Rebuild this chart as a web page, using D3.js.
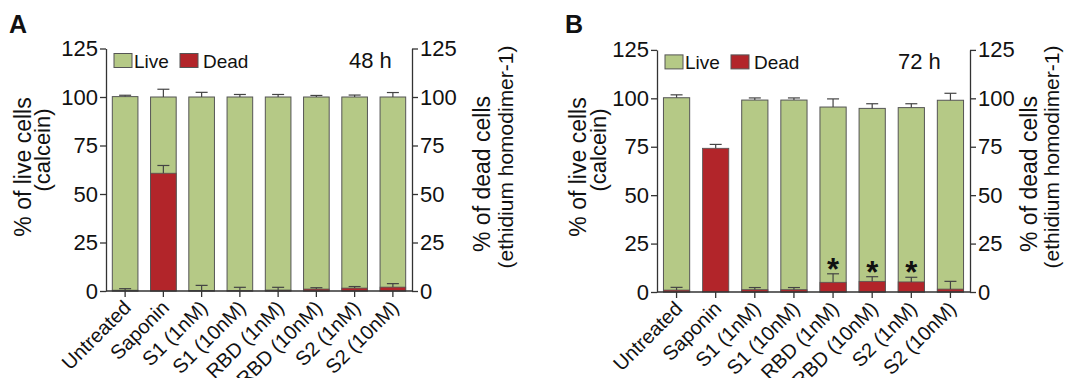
<!DOCTYPE html>
<html>
<head>
<meta charset="utf-8">
<script src="https://cdn.jsdelivr.net/npm/d3@7"></script>
<style>
  body { margin: 0; background: #fff; }
  text { font-family: "Liberation Sans", Arial, sans-serif; fill: #111; }
</style>
</head>
<body>
<svg id="chart" width="1070" height="378"></svg>
<script>
// categories + tick values
const categories = ["Untreated", "Saponin", "S1 (1nM)", "S1 (10nM)", "RBD (1nM)", "RBD (10nM)", "S2 (1nM)", "S2 (10nM)"];
const yTicks = [0, 25, 50, 75, 100, 125];

// 48 h
const liveA = [100.2, 100, 100, 100, 100, 100, 100, 100];
const liveErrA = [0.7, 4.0, 2.4, 1.3, 1.3, 0.8, 1.0, 2.3];
const deadA = [0.4, 60.7, 0.3, 0.2, 0.5, 1.0, 1.5, 2.0];
const deadErrA = [0.8, 4.0, 2.6, 1.7, 1.4, 0.7, 0.8, 1.8];

// 72 h
const liveB = [100.3, 0, 99.1, 99.1, 95.5, 94.8, 95.2, 99.0];
const liveErrB = [1.5, 0, 1.1, 1.1, 4.2, 2.4, 2.0, 3.6];
const deadB = [1.0, 74.2, 1.2, 1.2, 5.0, 5.5, 5.2, 1.5];
const deadErrB = [1.4, 2.0, 1.1, 1.1, 4.4, 2.4, 2.4, 4.0];
const signifB = [false, false, false, false, true, true, true, false];

const GREEN = "#b5c986";
const RED = "#b2252a";
const STROKE = "#555";
const AXIS = "#333";

const svg = d3.select("#chart");

function drawPanel(opt) {
  const g = svg.append("g");
  const x = d3.scaleBand().domain(categories).range([opt.x0, opt.x1])
    .paddingInner(0.33).paddingOuter(0.165);
  const y = d3.scaleLinear().domain([0, 125]).range([opt.yb, opt.yt]);

  // live bars
  g.selectAll(".live").data(categories).join("rect")
    .attr("x", d => x(d))
    .attr("width", x.bandwidth())
    .attr("y", (d, i) => y(opt.live[i]))
    .attr("height", (d, i) => y(0) - y(opt.live[i]))
    .attr("fill", GREEN).attr("stroke", STROKE).attr("stroke-width", 1);

  const errbar = (vals, errs) => {
    categories.forEach((c, i) => {
      if (!errs[i]) return;
      const cx = x(c) + x.bandwidth() / 2;
      const top = y(vals[i] + errs[i]);
      g.append("line").attr("x1", cx).attr("x2", cx)
        .attr("y1", y(vals[i])).attr("y2", top)
        .attr("stroke", "#444").attr("stroke-width", 1.2);
      g.append("line").attr("x1", cx - 6).attr("x2", cx + 6)
        .attr("y1", top).attr("y2", top)
        .attr("stroke", "#444").attr("stroke-width", 1.2);
    });
  };
  errbar(opt.live, opt.liveErr);

  // dead bars on top
  g.selectAll(".dead").data(categories).join("rect")
    .attr("x", d => x(d))
    .attr("width", x.bandwidth())
    .attr("y", (d, i) => y(opt.dead[i]))
    .attr("height", (d, i) => y(0) - y(opt.dead[i]))
    .attr("fill", RED).attr("stroke", STROKE).attr("stroke-width", 0.8);
  errbar(opt.dead, opt.deadErr);

  if (opt.signif) {
    categories.forEach((c, i) => {
      if (!opt.signif[i]) return;
      g.append("text")
        .attr("x", x(c) + x.bandwidth() / 2)
        .attr("y", y(opt.dead[i] + opt.deadErr[i]) + 6)
        .attr("text-anchor", "middle")
        .style("font-size", "31px").style("font-weight", "bold")
        .text("*");
    });
  }

  // axes
  const yl = g.append("g").attr("transform", `translate(${opt.x0},0)`)
    .call(d3.axisLeft(y).tickValues(yTicks).tickSize(6).tickSizeOuter(0).tickPadding(2));
  const yr = g.append("g").attr("transform", `translate(${opt.x1},0)`)
    .call(d3.axisRight(y).tickValues(yTicks).tickSize(6).tickSizeOuter(0).tickPadding(2));
  [yl, yr].forEach(a => {
    a.selectAll("path, line").attr("stroke", AXIS).attr("stroke-width", 1.3);
    a.selectAll("text").style("font-size", "22px").attr("fill", "#111");
  });

  const xa = g.append("g").attr("transform", `translate(0,${opt.yb})`)
    .call(d3.axisBottom(x).tickSize(6).tickSizeOuter(0).tickFormat(""));
  xa.select(".domain").attr("d", `M${opt.x0},0H${opt.x1}`);
  xa.selectAll("path, line").attr("stroke", AXIS).attr("stroke-width", 1.3);

  categories.forEach(c => {
    const cx = x(c) + x.bandwidth() / 2;
    g.append("text")
      .attr("transform", `translate(${cx + 7},${opt.yb + 18}) rotate(-45)`)
      .attr("text-anchor", "end")
      .style("font-size", "20px")
      .text(c);
  });

  // axis titles, two lines each
  const title = (lines, bx, cy, fs) => {
    lines.forEach((t, k) => {
      g.append("text")
        .attr("transform", `translate(${bx[k]},${cy[k]}) rotate(-90)`)
        .attr("text-anchor", "middle")
        .style("font-size", fs[k] + "px")
        .text(t);
    });
  };
  title(["% of live cells", "(calcein)"], opt.ltx, opt.lty, [23, 22]);
  title(["% of dead cells", "(ethidium homodimer-1)"], opt.rtx, opt.rty, [23, 21]);

  // legend
  const ly = opt.yt + 5;
  g.append("rect").attr("x", opt.x0 + 8).attr("y", ly).attr("width", 18).attr("height", 14)
    .attr("fill", GREEN).attr("stroke", STROKE);
  g.append("text").attr("x", opt.x0 + 28).attr("y", ly + 14).style("font-size", "19px").text("Live");
  g.append("rect").attr("x", opt.x0 + 74).attr("y", ly).attr("width", 18).attr("height", 14)
    .attr("fill", RED).attr("stroke", STROKE);
  g.append("text").attr("x", opt.x0 + 97).attr("y", ly + 14).style("font-size", "19px").text("Dead");

  g.append("text").attr("x", opt.timeX).attr("y", ly + 14)
    .style("font-size", "22px").text(opt.time);

  g.append("text").attr("x", opt.letterX).attr("y", 33)
    .style("font-size", "25px").style("font-weight", "bold").text(opt.letter);
}

drawPanel({
  x0: 106, x1: 412, yb: 291, yt: 48.5,
  live: liveA, liveErr: liveErrA, dead: deadA, deadErr: deadErrA,
  ltx: [31, 50], lty: [167, 150], rtx: [490, 513], rty: [174, 157],
  time: "48 h", timeX: 349, letter: "A", letterX: 9
});

drawPanel({
  x0: 657, x1: 970, yb: 292, yt: 49.9,
  live: liveB, liveErr: liveErrB, dead: deadB, deadErr: deadErrB, signif: signifB,
  ltx: [586, 606], lty: [167, 150], rtx: [1037, 1059], rty: [174, 157],
  time: "72 h", timeX: 898, letter: "B", letterX: 565
});
</script>
</body>
</html>
